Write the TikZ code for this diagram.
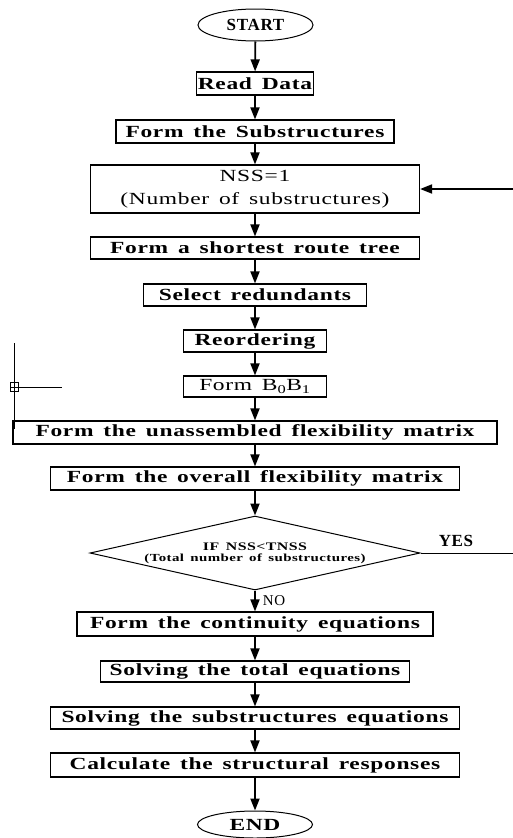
\documentclass[tikz,border=0pt]{standalone}
\usepackage{fontspec}
\setmainfont[FakeStretch=1.38,LetterSpace=4,WordSpace=1.5]{Liberation Serif}
\newfontfamily\plainserif[LetterSpace=4]{Liberation Serif}
\usetikzlibrary{shapes.geometric,arrows.meta}
\tikzset{
  box/.style={draw, line width=1.2pt, inner sep=0pt, minimum height=23pt,
    font=\fontsize{17}{20}\selectfont\bfseries},
  thinbox/.style={draw, line width=1.2pt, inner sep=0pt, minimum height=23pt,
    font=\fontsize{17}{23}\selectfont},
  term/.style={ellipse, draw, line width=1pt, inner sep=0pt, minimum width=115pt,
    minimum height=32pt, font=\fontsize{17}{20}\plainserif\bfseries},
  arr/.style={line width=1.8pt, -{Triangle[length=12pt,width=9pt]}},
  plain/.style={line width=1pt},
  lbl/.style={inner sep=0pt, font=\fontsize{17}{20}\plainserif\bfseries},
}
\begin{document}
\begin{tikzpicture}[x=1pt,y=-1pt]
\useasboundingbox (0,0) rectangle (513,838);

\node[term] (start) at (255.5,25) {START};
\node[box, minimum width=117pt] (read) at (255,83.5) {Read Data};
\node[box, minimum width=278pt] (sub) at (255,131.5) {Form the Substructures};
\node[thinbox, minimum width=329pt, minimum height=48pt, align=center] (nss) at (255,189)
  {NSS=1\\(Number of substructures)};
\node[box, minimum width=329pt, minimum height=22pt] (tree) at (255,248) {Form a shortest route tree};
\node[box, minimum width=223pt, minimum height=22pt] (red) at (255,295) {Select redundants};
\node[box, minimum width=143pt, minimum height=22pt] (reo) at (255,341) {Reordering};
\node[thinbox, minimum width=143pt, minimum height=21pt] (bb) at (255,386.5) {Form B\textsubscript{0}B\textsubscript{1}};
\node[box, minimum width=484pt] (una) at (255,432.5) {Form the unassembled flexibility matrix};
\node[box, minimum width=409pt] (ove) at (255,478.5) {Form the overall flexibility matrix};
\node[diamond, draw, line width=1pt, inner sep=0pt, minimum width=330pt, minimum height=74pt] (dec) at (255,553) {};
\node[inner sep=0pt, align=center] (dectext) at (dec.center)
  {\fontsize{11.5}{11}\selectfont\bfseries IF NSS<TNSS\\[-1pt]
   \fontsize{10.8}{10}\selectfont\bfseries (Total number of substructures)};
\node[box, minimum width=356pt, minimum height=24pt] (cont) at (255,624) {Form the continuity equations};
\node[box, minimum width=309pt, minimum height=21pt] (tot) at (255,671.5) {Solving the total equations};
\node[box, minimum width=409pt, minimum height=22pt] (sse) at (255,718) {Solving the substructures equations};
\node[box, minimum width=409pt, minimum height=24pt] (calc) at (255,765) {Calculate the structural responses};
\node[term, minimum height=27pt, font=\fontsize{17}{20}\selectfont\bfseries] (end) at (255,824.5) {END};

\draw[arr] (start) -- (read);
\draw[arr] (read) -- (sub);
\draw[arr] (sub) -- (nss);
\draw[arr] (nss) -- (tree);
\draw[arr] (tree) -- (red);
\draw[arr] (red) -- (reo);
\draw[arr] (reo) -- (bb);
\draw[arr] (bb) -- (una);
\draw[arr] (una) -- (ove);
\draw[arr] (ove) -- (dec.north);
\draw[arr] (dec.south) -- (cont);
\draw[arr] (cont) -- (tot);
\draw[arr] (tot) -- (sse);
\draw[arr] (sse) -- (calc);
\draw[arr] (calc) -- (end);

\coordinate (fb) at (513,189);
\draw[arr] (fb) -- (nss.east);
\coordinate (yesend) at (513,553);
\draw[plain] (dec.east) -- (yesend);
\node[lbl] (yes) at (456,541) {YES};
\node[lbl, font=\fontsize{15}{20}\plainserif] (no) at (274,601) {NO};

\coordinate (v1) at (14,343);
\coordinate (v2) at (14,429);
\coordinate (h1) at (14,387);
\coordinate (h2) at (62,387);
\draw[plain] (v1) -- (v2);
\draw[plain] (h1) -- (h2);
\draw[line width=0.8pt] (10.5,382.5) rectangle (18.5,391.5);
\draw[line width=0.8pt] (10.5,387) -- (18.5,387);
\end{tikzpicture}
\end{document}
